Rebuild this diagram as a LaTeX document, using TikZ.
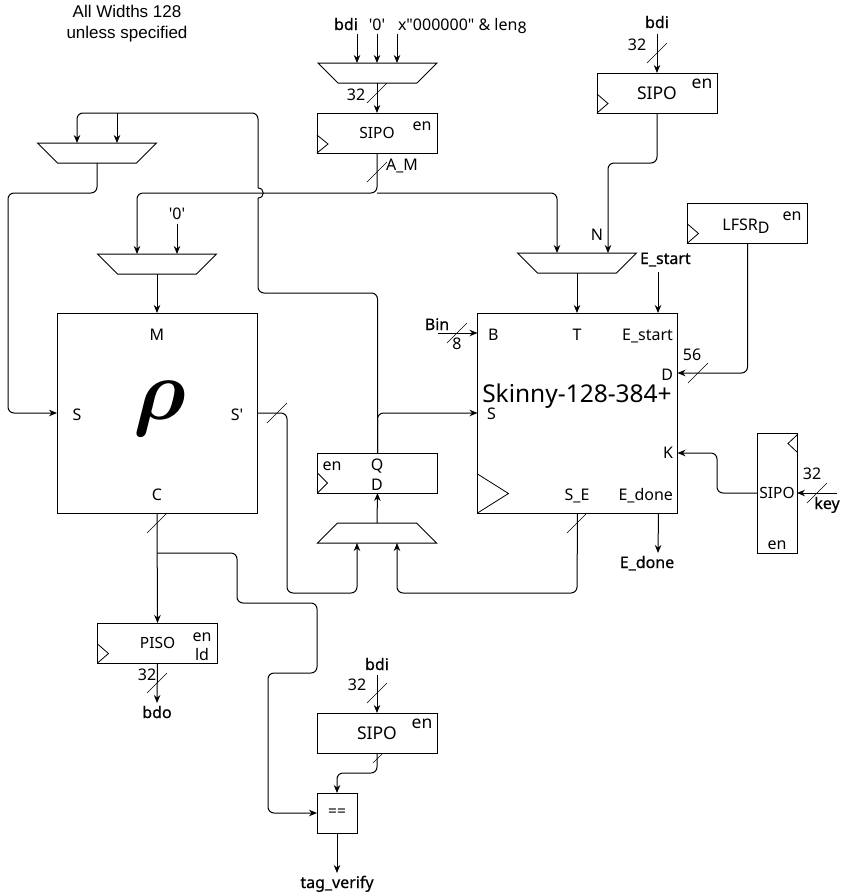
\RequirePackage{fix-cm}
\documentclass[tikz,border=0pt]{standalone}
\usepackage{fontspec}
\setmainfont{Noto Sans}
\newfontfamily\helvfont{Liberation Sans}
\newfontfamily\medfont{Noto Sans}[FakeBold=0.6]
\usepackage{bm}
\usetikzlibrary{arrows.meta,calc}
\newcommand\busmark[3][10]{\draw[tick] (#2-#1,#3+#1) -- (#2+#1,#3-#1);}
\newcommand\qs{\textquotesingle}
% mux with wide top: name, x, y
\newcommand\muxdn[3]{\coordinate (#1) at (#2,#3);
  \draw (#2-59.5,#3-10) -- (#2+59.5,#3-10) -- (#2+39.5,#3+10) -- (#2-39.5,#3+10) -- cycle;
  \coordinate (#1t) at (#2,#3-10); \coordinate (#1b) at (#2,#3+10);}
% mux with wide bottom
\newcommand\muxupw[3]{\coordinate (#1) at (#2,#3);
  \draw (#2-39.5,#3-10) -- (#2+39.5,#3-10) -- (#2+59.5,#3+10) -- (#2-59.5,#3+10) -- cycle;
  \coordinate (#1t) at (#2,#3-10); \coordinate (#1b) at (#2,#3+10);}
\begin{document}
\begin{tikzpicture}[x=1pt,y=-1pt,line width=1pt,
  box/.style={draw,minimum width=120pt,minimum height=40pt,inner sep=0pt,outer sep=0pt,font=\fontsize{15.5}{18}\selectfont},
  arr/.style={-{Stealth[length=8pt,width=6.5pt]}},
  wire/.style={rounded corners=6pt},
  tick/.style={line width=0.6pt},
  lbl/.style={inner sep=0pt,outer sep=0pt,anchor=base,font=\fontsize{16}{19}\selectfont},
  io/.style={lbl,font=\medfont\fontsize{16}{19}\selectfont},
  big/.style={font=\fontsize{17.5}{20}\selectfont},
]
\useasboundingbox (0,0) rectangle (846,895);

% ---------- title ----------
\node[lbl,font=\helvfont\fontsize{17}{20}\selectfont] (t1) at (127,17) {All Widths 128};
\node[lbl,font=\helvfont\fontsize{17}{20}\selectfont] (t2) at (127,38) {unless specified};

% ---------- blocks ----------
\muxdn{muxT}{377.5}{73}
\node[box] (sipoA) at (377,133) {SIPO};
\node[box,big] (sipoN) at (657,93) {SIPO};
\muxdn{muxL}{97}{153}
\muxdn{muxM}{157}{264}
\muxdn{muxE}{577}{263}
\node[box] (lfsr) at (747.5,223) {};
\node[draw,minimum width=200pt,minimum height=200pt,inner sep=0pt,outer sep=0pt] (rho) at (157,413) {};
\node[draw,minimum width=200pt,minimum height=200pt,inner sep=0pt,outer sep=0pt] (sk) at (577.5,413) {};
\node[box] (reg) at (377.5,473) {};
\muxupw{muxQ}{377}{533}
\node[box,minimum width=40pt,minimum height=120pt] (sipoK) at (777,493) {SIPO};
\node[box] (piso) at (157.5,643) {PISO};
\node[box,big] (sipoT) at (377,733) {SIPO};
\node[box,minimum width=40pt] (eq) at (337,813) {==};

\coordinate (skB) at ($(sk.north west)+(0,20)$);
\coordinate (skD) at ($(sk.north east)+(0,60)$);
\coordinate (skK) at ($(sk.north east)+(0,140)$);
\coordinate (skEd) at ($(sk.south west)+(181,0)$);
\coordinate (skSE) at ($(sk.south west)+(100,0)$);

% clock triangles
\draw[line width=0.8pt] ($(sipoA.south west)+(0,-18)$) -- ++(11,9) -- ++(-11,9);
\draw[line width=0.8pt] ($(sipoN.south west)+(0,-19)$) -- ++(11,9.5) -- ++(-11,9.5);
\draw[line width=0.8pt] ($(lfsr.south west)+(0,-19)$) -- ++(11,9.5) -- ++(-11,9.5);
\draw[line width=0.8pt] ($(reg.south west)+(0,-20)$) -- ++(10,10) -- ++(-10,10);
\draw[line width=0.8pt] ($(piso.south west)+(0,-19)$) -- ++(11,9.5) -- ++(-11,9.5);
\draw[line width=0.8pt] ($(sk.south west)+(0,-39)$) -- ++(31,19.5) -- ++(-31,19.5);
\draw[line width=0.8pt] ($(sipoK.north east)+(0,2)$) -- ++(-9,8.5) -- ++(9,8.5);

% ---------- labels ----------
\node[io] (bdiA) at (346,30) {bdi};
\node[lbl] (zeroA) at (377,30) {\qs0\qs};
\node[lbl,anchor=base west] (lenA) at (398,30) {x\textquotedbl000000\textquotedbl{} \& len\raisebox{-3.5pt}{8}};
\node[lbl] (w32A) at (356,100) {32};
\node[lbl] (am) at (402,170) {A\_M};
\node[lbl] (enA) at (422,130) {en};

\node[io] (bdiN) at (657,28) {bdi};
\node[lbl] (w32N) at (637,50) {32};
\node[lbl,big] (enN) at (702,88) {en};
\node[lbl] (nlab) at (597,240) {N};
\node[io,anchor=base west] (estart) at (640,264) {E\_start};

\node[lbl] (lfsrtxt) at (746,230) {LFSR\raisebox{-3pt}{D}};
\node[lbl] (enL) at (792,220) {en};

\node[lbl] (zeroM) at (177,219) {\qs0\qs};
\node[lbl] (rM) at (157,340) {M};
\node[lbl] (rS) at (77,420) {S};
\node[lbl] (rSp) at (237,420) {S\qs};
\node[lbl] (rC) at (157,500) {C};
\node[inner sep=0pt,font=\fontsize{86}{86}\selectfont] (rhosym) at (160,409) {$\bm{\rho}$};

\node[lbl,anchor=base west] (sB) at (488,340) {B};
\node[lbl] (sT) at (577,340) {T};
\node[lbl,anchor=base east] (sEs) at (673,340) {E\_start};
\node[lbl,anchor=base east] (sD) at (673,380) {D};
\node[lbl,font=\fontsize{24.5}{28}\selectfont] (skname) at (577,402) {Skinny-128-384+};
\node[lbl,anchor=base west] (sS) at (487,419) {S};
\node[lbl,anchor=base east] (sK) at (673,458) {K};
\node[lbl] (sSE) at (577,500) {S\_E};
\node[lbl,anchor=base east] (sEd) at (673,500) {E\_done};
\node[io] (bin) at (437,330) {Bin};
\node[lbl] (w8) at (457,349) {8};
\node[lbl] (w56) at (692,360) {56};
\node[lbl] (w32K) at (812,479) {32};
\node[io] (key) at (827,509) {key};
\node[lbl] (enK) at (777,549) {en};
\node[io] (edone) at (647,568) {E\_done};

\node[lbl] (enR) at (332,470) {en};
\node[lbl] (qR) at (377,470) {Q};
\node[lbl] (dR) at (377,490) {D};

\node[lbl] (enP) at (202,641) {en};
\node[lbl] (ldP) at (202,660) {ld};
\node[lbl] (w32P) at (147,680) {32};
\node[io] (bdo) at (157,718) {bdo};

\node[io] (bdiT) at (377,670) {bdi};
\node[lbl] (w32T) at (357,690) {32};
\node[lbl,big] (enT) at (422,728) {en};
\node[io] (tagv) at (337,888) {tag\_verify};

% ---------- free ends ----------
\coordinate (inA1) at (357,34);
\coordinate (inA2) at (377,34);
\coordinate (inA3) at (397,34);
\coordinate (inN) at (657,34);
\coordinate (inM) at (177,224);
\coordinate (esIn) at (658,272);
\coordinate (binIn) at (438,333);
\coordinate (keyIn) at (837,493);
\coordinate (edOut) at (658,553);
\coordinate (bdoOut) at (157,703);
\coordinate (inT) at (377,675);
\coordinate (tagOut) at (337,873);
\coordinate (jAM) at (377,193);
\coordinate (jL) at (117,113);
\coordinate (jC) at (157,553);
\coordinate (jmpA) at (258,198);
\coordinate (jmpB) at (258,188);

% ---------- connectors ----------
\draw[arr] (inA1) -- (inA1 |- muxTt);
\draw[arr] (inA2) -- (inA2 |- muxTt);
\draw[arr] (inA3) -- (inA3 |- muxTt);
\draw[arr] (muxTb -| sipoA.north) -- (sipoA.north);
\draw[arr] (inN) -- (sipoN.north);

% A_M bus
\draw[wire,arr] (sipoA.south) -- (jAM) -| ([xshift=-20pt]muxMt);
\draw[wire,arr] (jAM) -| ([xshift=-20pt]muxEt);
\draw[arr] (inM) -- ([xshift=20pt]muxMt);
\draw[arr] (muxMb) -- (rho.north);

% N
\draw[wire,arr] (sipoN.south) -- ++(0,50) -| ([xshift=31pt]muxEt);
\draw[arr] (muxEb) -- (muxEb |- sk.north);
\draw[arr] (esIn) -- (esIn |- sk.north);

% LFSR -> D
\draw[wire,arr] (lfsr.south) |- (skD);
% key SIPO
\draw[arr] (keyIn) -- (sipoK.east);
\draw[wire,arr] (sipoK.west) -- ++(-40,0) |- (skK);
% Bin
\draw[arr] (binIn) -- (skB);
% E_done
\draw[arr] (skEd) -- (edOut);

% top-left mux -> rho S
\draw[wire,arr] (muxLb) |- (8,193) |- (rho.west);

% Q feedback
\draw[wire,arr] (reg.north) |- (sk.west);
\draw[wire] (reg.north) |- (258,293) -- (jmpA);
\draw (jmpA) .. controls +(7,0) and +(7,0) .. (jmpB);
\draw[wire,arr] (jmpB) |- (77,113) -- ([xshift=-20pt]muxLt);
\draw[arr] (jL) -- ([xshift=20pt]muxLt);

% S' -> mux
\draw[wire,arr] (rho.east) -| (287,593) -| ([xshift=-20pt]muxQb);
% S_E -> mux
\draw[wire,arr] (skSE) -- (577,593) -| ([xshift=20pt]muxQb);
\draw[arr] (muxQt) -- (reg.south);

% C
\draw[arr] (rho.south) -- (piso.north);
\draw[wire,arr] (jC) -| (237,603) -| (317,673) -| (268,813) -- (eq.west);
\draw[arr] (piso.south) -- (bdoOut);

% tag
\draw[arr] (inT) -- (sipoT.north);
\draw[wire,arr] (sipoT.south) -- ++(0,20) -| (eq.north);
\draw[arr] (eq.south) -- (tagOut);

% ---------- bus width marks ----------
\busmark{377}{93}
\busmark{377}{172}
\busmark{657}{53}
\busmark{277}{413}
\busmark{157}{523}
\busmark{157}{683}
\busmark{577}{523}
\busmark{698}{373}
\busmark{817}{493}
\busmark{457}{333}
\busmark{377}{693}
\busmark[5]{378}{758}
\end{tikzpicture}
\end{document}
